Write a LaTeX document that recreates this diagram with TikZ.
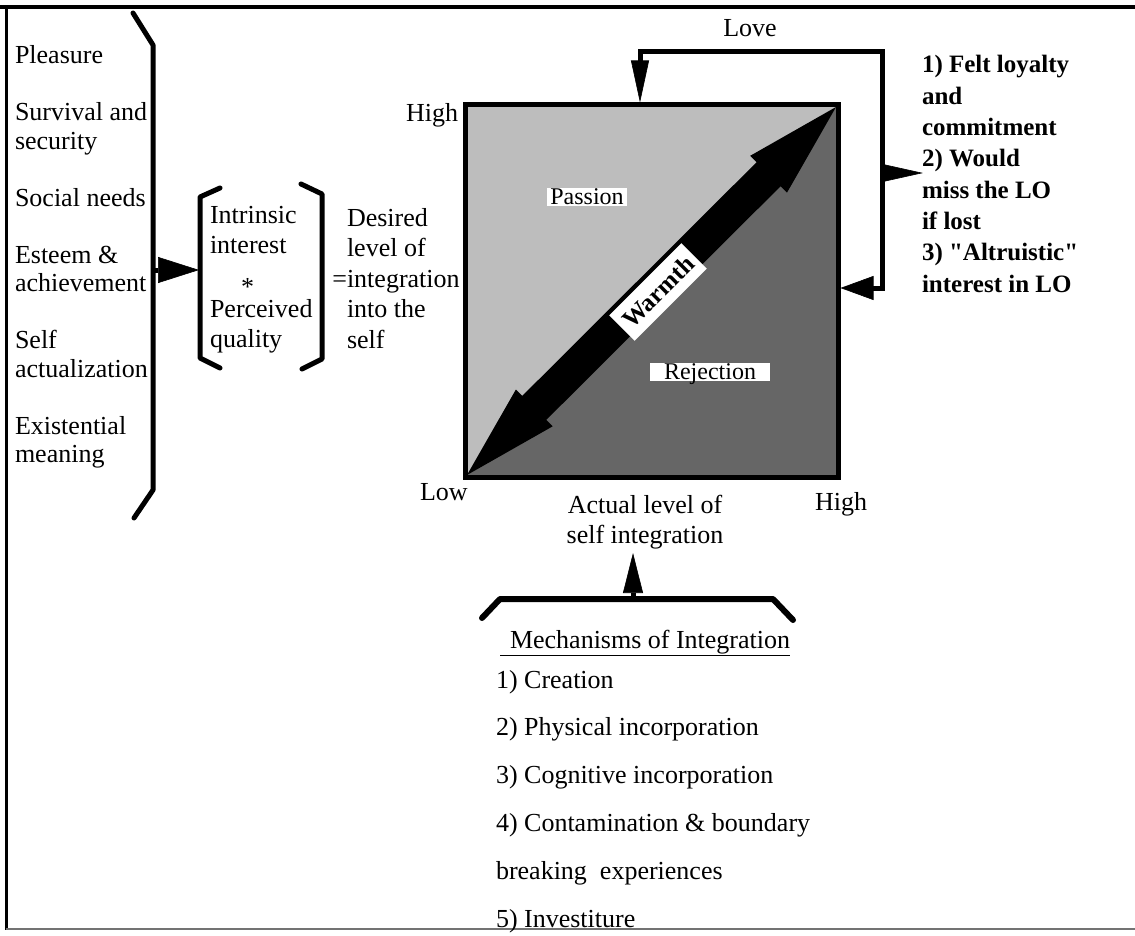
\documentclass[tikz,border=0pt]{standalone}
\usepackage{fontspec}
\setmainfont{Liberation Serif}
\usetikzlibrary{arrows.meta}

% stacked lines: #1 font size, #2 line distance, #3 rows
\newcommand\rowsL[3]{{\fontsize{#1}{#2}\selectfont\begin{tabular}[t]{@{}l@{}}#3\end{tabular}}}
\newcommand\rowsC[3]{{\fontsize{#1}{#2}\selectfont\begin{tabular}[t]{@{}c@{}}#3\end{tabular}}}
% straight double quote, set as a glyph so no ligature mapping curls it
\newcommand\dq{\XeTeXglyph\XeTeXcharglyph"22\relax}

\definecolor{lightfill}{gray}{0.74}
\definecolor{darkfill}{gray}{0.40}

\tikzset{
  txt/.style={inner sep=0pt, outer sep=0pt, font=\fontsize{26}{30}\selectfont},
  conn/.style={line width=5pt, line join=miter},
  bracket/.style={line width=5pt, line cap=round, line join=round},
  boxlbl/.style={fill=white, inner sep=0pt, font=\fontsize{24}{26}\selectfont,
                 text height=16pt, text depth=2pt},
  tipLove/.tip={Triangle[length=42pt,width=18pt,line width=0.6pt]},
  tipBack/.tip={Triangle[length=33pt,width=24pt,line width=0.6pt]},
  tipOut/.tip={Triangle[length=41pt,width=18pt,line width=0.6pt]},
  tipNeeds/.tip={Triangle[length=41pt,width=26pt,line width=0.6pt]},
  tipMech/.tip={Triangle[length=40pt,width=20pt,line width=0.6pt]},
}

\begin{document}
\begin{tikzpicture}[x=1pt,y=-1pt]
\useasboundingbox (0,0) rectangle (1135,936);

% outer frame
\draw[line width=4pt] (0,7) -- (1135,7);
\draw[line width=3pt] (6,7) -- (6,930);
\draw[line width=2pt, black!55] (6,929) -- (1135,929);

% needs column and its bracket
\node[txt, anchor=base west] (needs) at (15,64)
  {\rowsL{26}{28.5}{Pleasure\\ \\ Survival and\\ security\\ \\ Social needs\\ \\ Esteem \&\\ achievement\\ \\ Self\\ actualization\\ \\ Existential\\ meaning}};
\draw[bracket] (133,13) -- (153,45) -- (153,490) -- (134,518);
\coordinate (needsR) at (154,270);
\coordinate (prodL) at (199,270);
\draw[conn, -{tipNeeds}] (needsR) -- (prodL);

% bracketed product
\draw[bracket] (220,188) -- (200,197) -- (200,358) -- (220,368);
\draw[bracket] (301,184) -- (322,194) -- (322,359) -- (302,369);
\node[txt, anchor=base west] (product) at (210,223)
  {\rowsL{26}{30.5}{Intrinsic\\ interest\\ \hspace*{31pt}\raisebox{-12pt}{*}\\ Perceived\\ quality}};
\node[txt, anchor=base west] (desired) at (347,226)
  {\rowsL{26}{30.5}{Desired\\ level of\\ \llap{=}integration\\ into the\\ self}};

% the square with its two zones
\path node[minimum width=373pt, minimum height=372pt, inner sep=0pt, outer sep=0pt] (sq) at (651.5,291) {};
\fill[lightfill] (sq.north west) -- (sq.north east) -- (sq.south west) -- cycle;
\fill[darkfill] (sq.north east) -- (sq.south east) -- (sq.south west) -- cycle;

% warmth double arrow along the diagonal
\fill[black] (467,475) -- (515.9,389.5) -- (522.3,395.9) -- (756.6,162.2) -- (750.2,155.8)
  -- (836,107) -- (787,192.6) -- (780.6,186.2) -- (546.3,419.9) -- (552.7,426.3) -- cycle;
\draw[line width=5pt] (sq.north west) rectangle (sq.south east);

\node[boxlbl, minimum width=80pt] (passion) at (587,197.5) {Passion};
\node[boxlbl, minimum width=120pt] (rejection) at (710,372) {Rejection};
\node[fill=white, inner sep=0pt, minimum width=102pt, minimum height=36pt, rotate=45,
      font=\fontsize{25}{27}\selectfont\bfseries] (warmth) at (658,292) {Warmth};

% axis labels
\node[txt, anchor=base east] (highY) at (458,122) {High};
\node[txt, anchor=base west] (lowX) at (420,500) {Low};
\node[txt, anchor=base west] (highX) at (815,510) {High};
\node[txt, anchor=base] (actual) at (645,513) {\rowsC{26}{30}{Actual level of\\ self integration}};

% love feedback loop
\node[txt, anchor=base] (love) at (750,37) {Love};
\coordinate (sqRight) at (840.5,288);
\coordinate (loopBR) at (882.5,288);
\coordinate (loopTR) at (882.5,51.5);
\coordinate (loopTL) at (640,51.5);
\coordinate (sqTop) at (640,102.5);
\draw[conn, tipBack-tipLove] (sqRight) -- (loopBR) -- (loopTR) -- (loopTL) -- (sqTop);
\coordinate (loopMid) at (882.5,173);
\coordinate (outcomeL) at (923,173);
\draw[conn, -{tipOut}] (loopMid) -- (outcomeL);
\node[txt, anchor=base west] (outcomes) at (922,73)
  {\bfseries\rowsL{25}{31.3}{1) Felt loyalty\\ and\\ commitment\\ 2) Would\\ miss the LO\\ if lost\\ 3) \dq Altruistic\dq\\ interest in LO}};

% mechanisms of integration
\draw[bracket, line width=6pt] (482,618) -- (500,599) -- (773,599) -- (793,620);
\coordinate (mechTop) at (633,599);
\coordinate (actualFoot) at (633,553);
\draw[conn, -{tipMech}] (mechTop) -- (actualFoot);
\node[txt, anchor=base west] (mechhead) at (500,648) {\underline{\hspace*{10pt}Mechanisms of Integration}};
\node[txt, anchor=base west] (mechlist) at (496,688)
  {\rowsL{26}{47.8}{1) Creation\\ 2) Physical incorporation\\ 3) Cognitive incorporation\\ 4) Contamination \& boundary\\ breaking\ \ experiences\\ 5) Investiture}};
\end{tikzpicture}
\end{document}
